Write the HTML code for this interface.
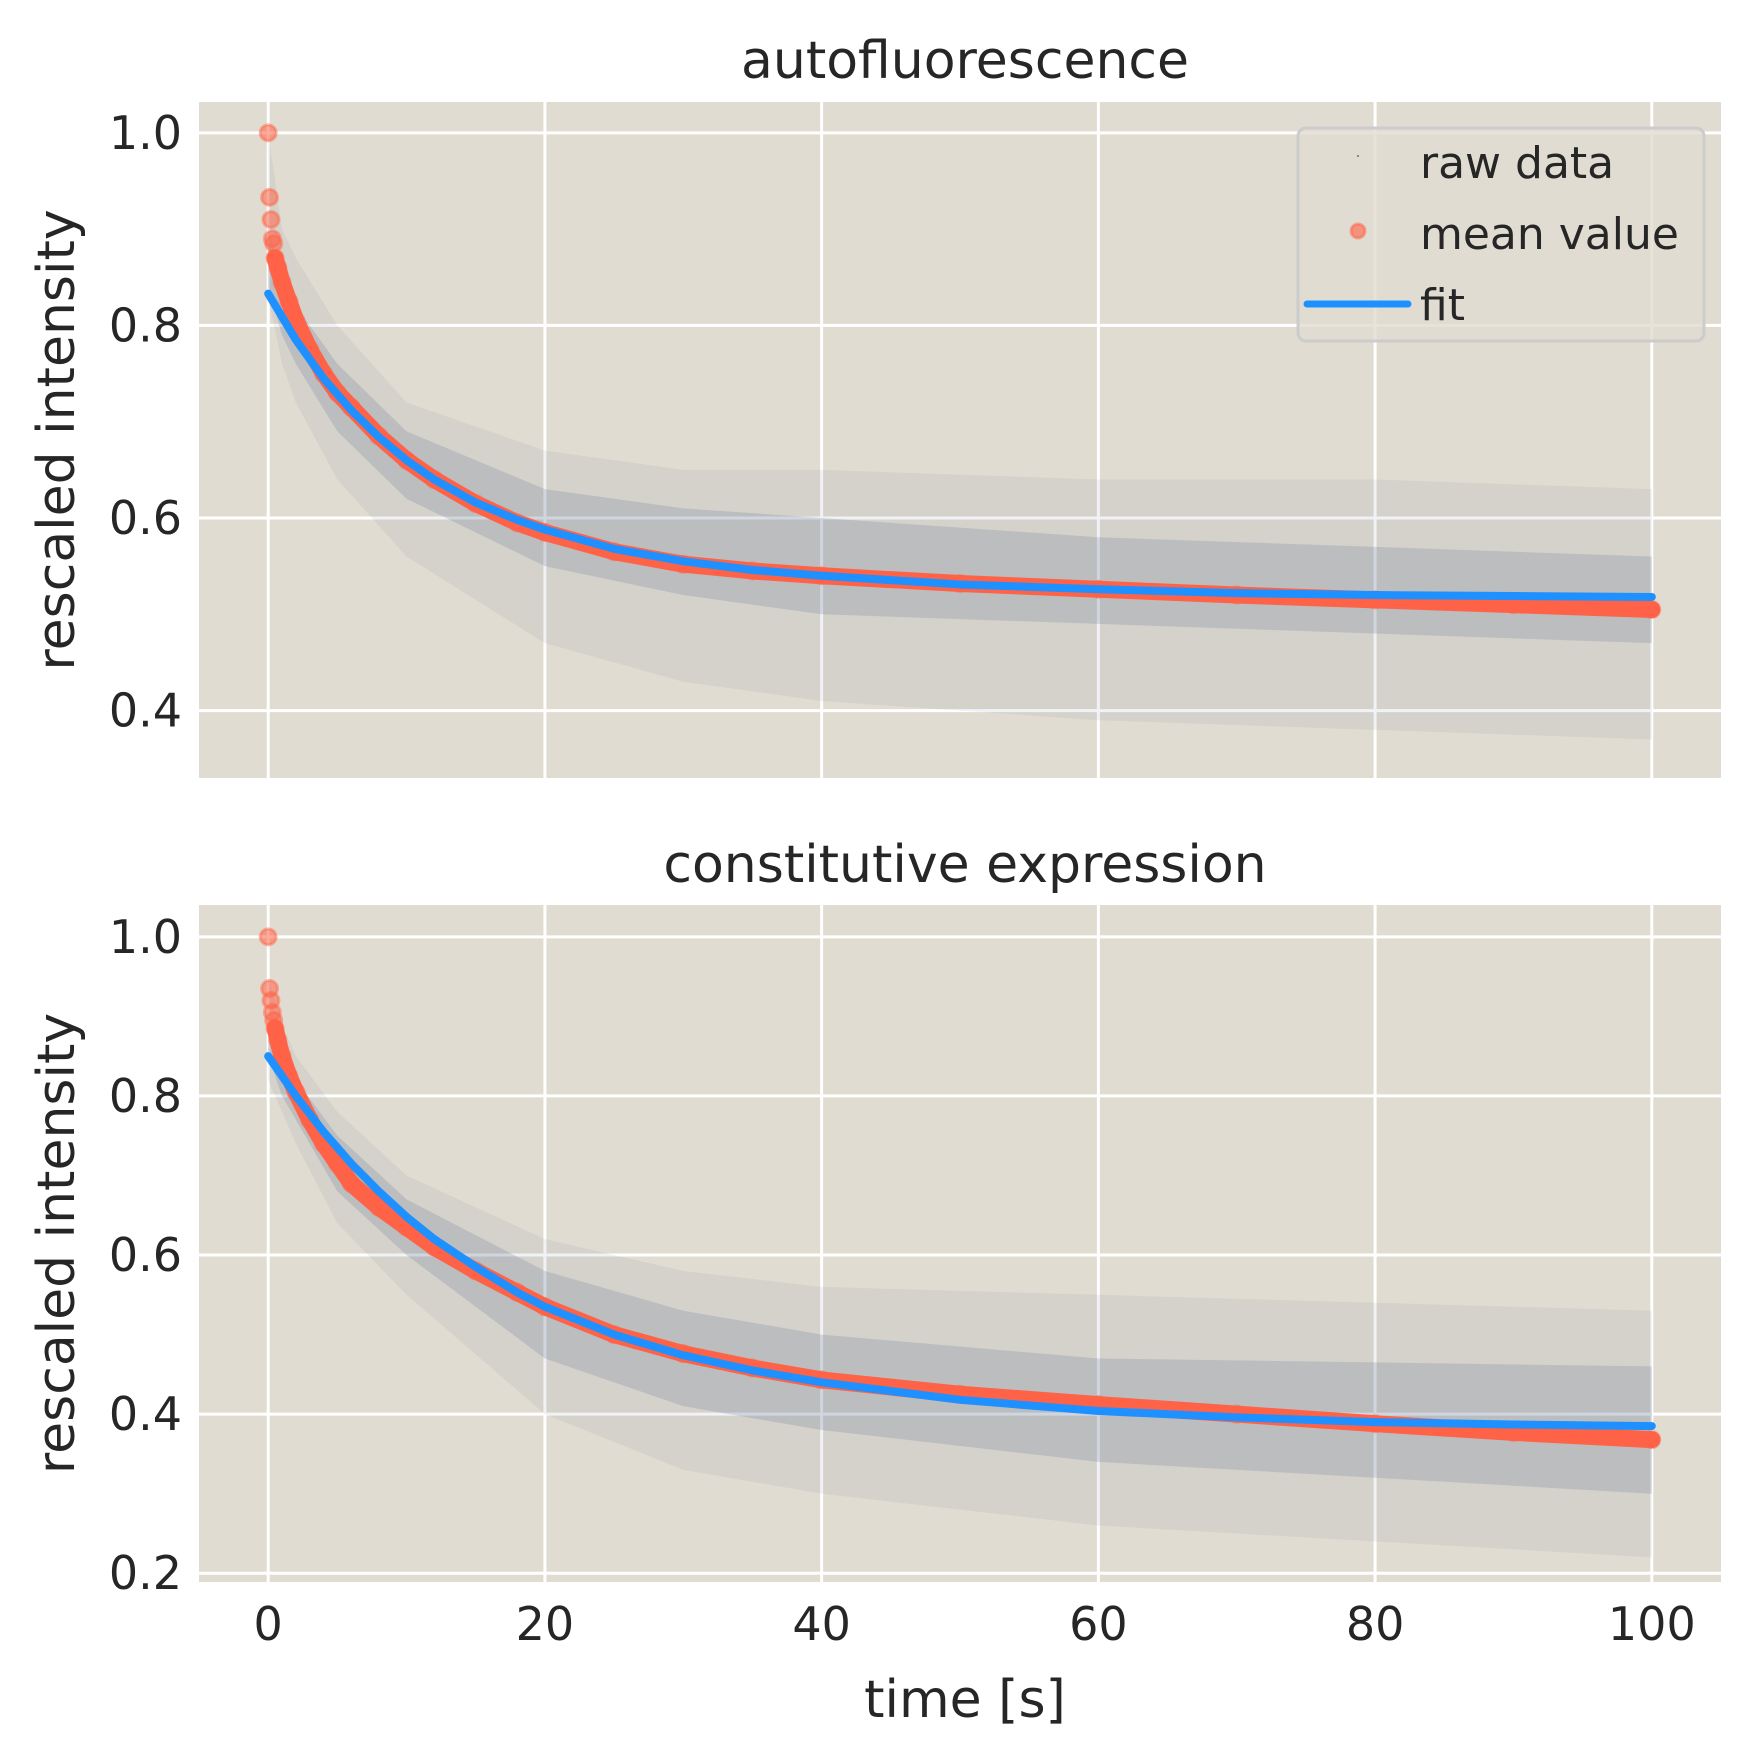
<!DOCTYPE html>
<html><head><meta charset="utf-8"><style>
html,body{margin:0;padding:0;background:#fff}
svg{display:block}
text{font-family:"DejaVu Sans","Liberation Sans",sans-serif;fill:#262626}
</style></head><body>
<svg id="chart" width="1750" height="1750" viewBox="0 0 1750 1750" xmlns="http://www.w3.org/2000/svg"></svg>
<script>
const xTicks=[0,20,40,60,80,100];
const yTicksTop=[0.4,0.6,0.8,1.0];
const yTicksBot=[0.2,0.4,0.6,0.8,1.0];
const meanT=[0,0.1,0.2,0.3,0.4,0.5,0.7,1,1.5,2,3,4,5,6,8,10,12,15,18,20,25,30,35,40,50,60,70,80,90,100];
const meanTop=[1.0,0.933,0.91,0.89,0.885,0.87,0.86,0.845,0.825,0.805,0.775,0.75,0.73,0.715,0.685,0.66,0.64,0.615,0.595,0.585,0.565,0.552,0.545,0.54,0.532,0.526,0.52,0.515,0.51,0.505];
const meanBot=[1.0,0.935,0.92,0.905,0.895,0.885,0.87,0.85,0.825,0.805,0.77,0.74,0.715,0.69,0.66,0.635,0.61,0.58,0.553,0.535,0.5,0.476,0.458,0.443,0.425,0.412,0.4,0.388,0.377,0.368];
const fitT=[0,2,4,6,8,10,12,15,18,20,25,30,35,40,50,60,70,80,90,100];
const fitTop=[0.833,0.785,0.745,0.712,0.684,0.66,0.64,0.616,0.598,0.588,0.568,0.555,0.546,0.54,0.531,0.526,0.522,0.52,0.519,0.518];
const fitBot=[0.85,0.8,0.755,0.715,0.68,0.648,0.62,0.585,0.553,0.535,0.5,0.474,0.455,0.44,0.418,0.404,0.396,0.39,0.387,0.385];
const envT=[0,1,2,5,10,20,30,40,60,80,100];
const outerTopHi=[1.0,0.9,0.87,0.8,0.72,0.67,0.65,0.65,0.64,0.64,0.63];
const outerTopLo=[0.83,0.76,0.72,0.64,0.56,0.47,0.43,0.41,0.39,0.38,0.37];
const innerTopHi=[0.9,0.85,0.82,0.76,0.69,0.63,0.61,0.6,0.58,0.57,0.56];
const innerTopLo=[0.84,0.79,0.76,0.69,0.62,0.55,0.52,0.5,0.49,0.48,0.47];
const outerBotHi=[0.95,0.89,0.85,0.78,0.7,0.62,0.58,0.56,0.55,0.54,0.53];
const outerBotLo=[0.82,0.78,0.74,0.64,0.55,0.4,0.33,0.3,0.26,0.24,0.22];
const innerBotHi=[0.9,0.85,0.82,0.75,0.67,0.58,0.53,0.5,0.47,0.465,0.46];
const innerBotLo=[0.85,0.8,0.77,0.68,0.6,0.47,0.41,0.38,0.34,0.32,0.3];

const NS="http://www.w3.org/2000/svg";
const svg=document.getElementById('chart');
function el(tag,attrs,parent){const e=document.createElementNS(NS,tag);for(const k in attrs)e.setAttribute(k,attrs[k]);(parent||svg).appendChild(e);return e;}
const X0=199,X1=1721,XMIN=-5,XMAX=105;
function xs(v){return X0+(v-XMIN)/(XMAX-XMIN)*(X1-X0);}

const panels=[
 {top:102,bot:778,ymin:0.330,ymax:1.032,ticks:yTicksTop,mean:meanTop,fit:fitTop,oh:outerTopHi,ol:outerTopLo,ih:innerTopHi,il:innerTopLo,title:'autofluorescence',tb:78,name:'autofluorescence-panel',xlabels:false,legend:true},
 {top:905,bot:1582,ymin:0.189,ymax:1.04,ticks:yTicksBot,mean:meanBot,fit:fitBot,oh:outerBotHi,ol:outerBotLo,ih:innerBotHi,il:innerBotLo,title:'constitutive expression',tb:882,name:'constitutive-expression-panel',xlabels:true,legend:false}
];
panels.forEach(p=>{
 const g=el('g',{});
 
 
 const ys=v=>p.bot-(v-p.ymin)/(p.ymax-p.ymin)*(p.bot-p.top);
 const bg=el('rect',{x:X0,y:p.top,width:X1-X0,height:p.bot-p.top,fill:'#e1dcd1'},g);
 
 
 xTicks.forEach(t=>{
  const l=el('line',{x1:xs(t),x2:xs(t),y1:p.top,y2:p.bot,stroke:'#fff','stroke-width':3},g);
  
  
  if(p.xlabels){const tx=el('text',{x:xs(t),y:1640,'font-size':46,'text-anchor':'middle'},g);tx.textContent=t;
   
   }
 });
 p.ticks.forEach(t=>{
  const l=el('line',{x1:X0,x2:X1,y1:ys(t),y2:ys(t),stroke:'#fff','stroke-width':3},g);
  
  
  const tx=el('text',{x:182,y:ys(t)+16,'font-size':46,'text-anchor':'end'},g);tx.textContent=t.toFixed(1);
  
  
 });
 function band(hi,lo,fill,name){
  let d='';envT.forEach((t,i)=>{d+=(i?'L':'M')+xs(t)+','+ys(hi[i]);});
  for(let i=envT.length-1;i>=0;i--)d+='L'+xs(envT[i])+','+ys(lo[i]);
  const b=el('path',{d:d+'Z',fill:fill},g);
  
  
 }
 band(p.oh,p.ol,'rgba(110,128,160,0.1)','raw-data-outer');
 band(p.ih,p.il,'rgba(95,115,150,0.22)','raw-data-dense');
 let md='';let first=true;
 meanT.forEach((t,i)=>{if(t<0.5)return;md+=(first?'M':'L')+xs(t)+','+ys(p.mean[i]);first=false;});
 const ml=el('path',{d:md,fill:'none',stroke:'#ff6347','stroke-width':17,'stroke-linejoin':'round','stroke-linecap':'round'},g);
 
 
 meanT.forEach((t,i)=>{
  const c=el('circle',{cx:xs(t),cy:ys(p.mean[i]),r:8,fill:'rgba(255,99,71,0.55)',stroke:'rgba(255,99,71,0.45)','stroke-width':3},g);
  
  
 });
 let fd='';fitT.forEach((t,i)=>{fd+=(i?'L':'M')+xs(t)+','+ys(p.fit[i]);});
 const fl=el('path',{d:fd,fill:'none',stroke:'#1e90ff','stroke-width':8,'stroke-linecap':'round','stroke-linejoin':'round'},g);
 
 
 const ti=el('text',{x:965,y:p.tb,'font-size':52,'text-anchor':'middle'},g);ti.textContent=p.title;
 
 
 const cy=(p.top+p.bot)/2;
 const yl=el('text',{x:0,y:0,'font-size':52,'text-anchor':'middle',transform:'translate(74,'+cy+') rotate(-90)'},g);yl.textContent='rescaled intensity';
 
 
 if(p.legend){
  const lg=el('g',{},g);
  
  
  el('rect',{x:1298,y:128,width:406,height:213,rx:8,fill:'rgba(225,220,209,0.8)',stroke:'#cccccc','stroke-width':3},lg);
  const labels=['raw data','mean value','fit'];const by=[178,249,320];
  labels.forEach((s,i)=>{const t=el('text',{x:1420,y:by[i],'font-size':44},lg);t.textContent=s;
   
   });
  el('circle',{cx:1358,cy:156,r:1,fill:'#5a6c8a'},lg);
  el('circle',{cx:1358,cy:231,r:7,fill:'rgba(255,99,71,0.6)',stroke:'rgba(255,99,71,0.5)','stroke-width':3},lg);
  el('line',{x1:1307,x2:1408,y1:304,y2:304,stroke:'#1e90ff','stroke-width':7,'stroke-linecap':'round'},lg);
 }
});
const xl=el('text',{x:965,y:1717,'font-size':52,'text-anchor':'middle'});xl.textContent='time [s]';


</script>
</body></html>
